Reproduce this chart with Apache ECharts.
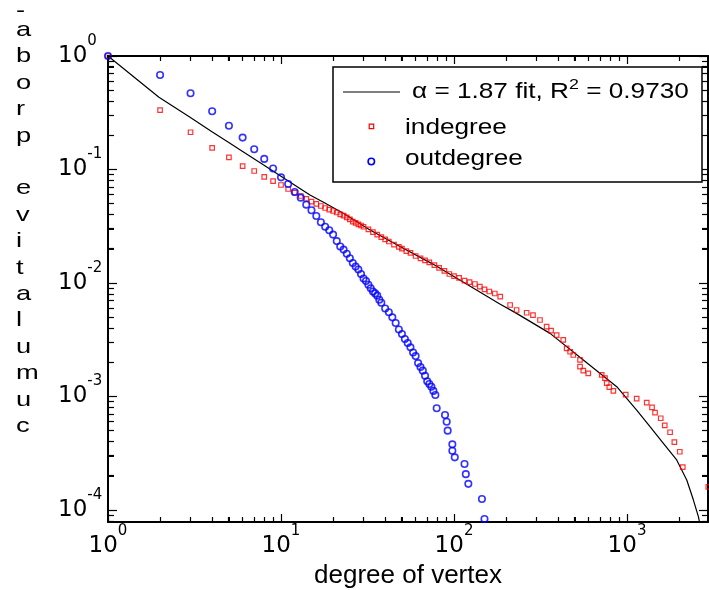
<!DOCTYPE html>
<html><head><meta charset="utf-8">
<script src="https://cdn.jsdelivr.net/npm/echarts@6/dist/echarts.min.js"></script>
<style>html,body{margin:0;padding:0;background:#fff}#c{width:709px;height:590px}</style>
</head><body><div id="c"></div>
<script>
// ---- data ----
const inX = [1,2,3,4,5,6,7,8,9,10,11,12,13,14,15,16,17,18,19,20,21,22,23,24,25,26,27,28,29,30,32,34,36,38,40,42,45,48,50,53,56,60,64,68,72,77,82,88,94,100,107,115,123,132,141,150,160,172,185,211,230,263,286,314,343,364,392,428,448,469,489,535,535,559,597,714,746,763,790,834,983,1137,1300,1395,1452,1566,1652,1774,1877,2018,2100,2950];
const inY = [1,0.334,0.213,0.155,0.128,0.107,0.097,0.086,0.079,0.073,0.0673,0.0625,0.0584,0.055,0.0522,0.0497,0.0477,0.0458,0.0443,0.0431,0.0418,0.0403,0.0392,0.0378,0.0363,0.0348,0.0339,0.0329,0.0321,0.0313,0.0297,0.0281,0.0267,0.0254,0.0242,0.0232,0.0218,0.0208,0.0201,0.0191,0.0184,0.0173,0.0165,0.0158,0.0152,0.0144,0.0136,0.0128,0.012,0.0115,0.0111,0.0105,0.0102,0.0098,0.0093,0.00877,0.00842,0.00808,0.0076,0.0064,0.00578,0.00547,0.00522,0.00472,0.00412,0.0038,0.00348,0.00315,0.00266,0.00248,0.00232,0.0021,0.00183,0.00169,0.0016,0.00155,0.00145,0.00131,0.00121,0.00112,0.00104,0.000957,0.000882,0.000803,0.00072,0.000643,0.000557,0.000484,0.000397,0.000326,0.000239,0.00016];

const outX = [1,2,3,4,5,6,7,8,9,10,11,12,13,14,15,16,17,18,19,20,21,22,23,24,25,26,27,28,29,30,31,32,33,34,35,36,37,38,40,42,44,46,48,50,52,54,56,58,60,62,64,66,68,70,72,74,76,78,79.4,88.7,90.7,91.9,97.8,97.8,101,115,117,121,145,150];
const outY = [1,0.68,0.469,0.326,0.243,0.191,0.151,0.124,0.102,0.0853,0.0745,0.0633,0.0565,0.049,0.0437,0.0389,0.0343,0.0313,0.0292,0.0267,0.0234,0.021,0.0197,0.0181,0.0165,0.015,0.01395,0.01317,0.012,0.01095,0.01041,0.00966,0.00898,0.00842,0.0081,0.00774,0.00713,0.00669,0.00596,0.00552,0.00498,0.00444,0.00389,0.00355,0.00321,0.00296,0.00271,0.00244,0.00227,0.00197,0.00182,0.00169,0.00152,0.00136,0.00129,0.00122,0.00112,0.00103,0.000787,0.000687,0.0006,0.0005,0.000379,0.000333,0.000291,0.000254,0.000207,0.00017,0.000125,0.0000834];

const fitX = [1,1.97,2.98,3.99,4.99,5.97,7.9,10.8,14.7,17.6,22.9,32.7,48.7,75.9,118,184,230,359,559,872,1137,1358,1622,1937,2214,2417,2585,2625];
const fitY = [1,0.433,0.288,0.215,0.173,0.145,0.11,0.081,0.0596,0.0514,0.0411,0.0293,0.021,0.0146,0.0098,0.00653,0.0054,0.0036,0.0021,0.00122,0.00076,0.000542,0.000387,0.000276,0.000184,0.000123,0.0000873,0.0000783];

// tick positions (values) and label base
const xMajorTicks = [1,10,100,1000];
const xMinorTicks = [2,3,4,5,6,7,8,9,20,30,40,50,60,70,80,90,200,300,400,500,600,700,800,900,2000];
const yMajorTicks = [1e-4,1e-3,1e-2,1e-1,1];
const yMinorTicks = [8e-5,9e-5,2e-4,3e-4,4e-4,5e-4,6e-4,7e-4,8e-4,9e-4,2e-3,3e-3,4e-3,5e-3,6e-3,7e-3,8e-3,9e-3,0.02,0.03,0.04,0.05,0.06,0.07,0.08,0.09,0.2,0.3,0.4,0.5,0.6,0.7,0.8,0.9];
const tickBase = '10';

const xTitle = 'degree of vertex';
const yTitleLetters = ['a','b','o','r','p',' ','e','v','i','t','a','l','u','m','u','c'];
const legendFit = 'α = 1.87 fit, R';
const legendFitSup = '2';
const legendFitTail = ' = 0.9730';
const legendIn = 'indegree';
const legendOut = 'outdegree';

const X_MIN = 1, X_MAX = 2938, Y_MIN = 7.84e-5, Y_MAX = 1;

// ---- chart ----
const TF = '"DejaVu Sans", sans-serif';
const AF = '"Liberation Sans", Arial, sans-serif';
const zip = (a, b) => a.map((v, i) => [v, b[i]]);
function labelFmt(v) {
  const l = Math.log10(v), e = Math.round(l);
  if (Math.abs(l - e) > 1e-6) return '';
  return '{b|' + tickBase + '}{s|' + e + '}';
}
const rich = {
  b: { fontFamily: TF, fontSize: 23, color: '#000' },
  s: { fontFamily: TF, fontSize: 15, color: '#000', padding: [0, 0, 30, 0] }
};

function mkAxis(kind, pos, label, extra) {
  const isX = kind === 'x';
  return Object.assign({
    type: 'log', logBase: 10, position: pos,
    min: isX ? X_MIN : Y_MIN, max: isX ? X_MAX : Y_MAX,
    axisLine: { show: true, onZero: false, lineStyle: { color: '#000', width: 2 } },
    axisTick: { show: true, inside: true, length: isX ? 8 : 9, lineStyle: { color: '#000', width: 1 } },
    minorTick: { show: true, splitNumber: 9, length: isX ? 5 : 6, lineStyle: { color: '#000', width: 1 } },
    axisLabel: label || { show: false },
    splitLine: { show: false }
  }, extra || {});
}

const baseGraphics = [
  { type: 'text', x: 16, y: 11, scaleX: 1.3, silent: true,
    style: { text: '-', fontFamily: AF, fontSize: 21, fill: '#000', align: 'left', verticalAlign: 'middle' } },
  { type: 'text', x: 16, y: 17, scaleX: 1.3, silent: true,
    style: { text: yTitleLetters.join('\n'), fontFamily: AF, fontSize: 21, lineHeight: 26.4, fill: '#000', align: 'left', verticalAlign: 'top' } },
  // legend
  { type: 'rect', silent: true, z: 10,
    shape: { x: 333, y: 67, width: 369, height: 115 },
    style: { fill: '#fff', stroke: '#000', lineWidth: 1.5 } },
  { type: 'line', silent: true, z: 11,
    shape: { x1: 343, y1: 92, x2: 400, y2: 92 },
    style: { stroke: '#000', lineWidth: 1.2 } },
  { type: 'text', x: 412, y: 92, scaleX: 1.19, silent: true, z: 11,
    style: {
      text: '{a|' + legendFit + '}{s|' + legendFitSup + '}{a|' + legendFitTail + '}',
      rich: {
        a: { fontFamily: AF, fontSize: 22, fill: '#000' },
        s: { fontFamily: AF, fontSize: 15, fill: '#000', padding: [0, 0, 15, 0] }
      },
      align: 'left', verticalAlign: 'middle'
    } },
  { type: 'rect', silent: true, z: 11,
    shape: { x: 369.2, y: 124.2, width: 4.5, height: 4.5 },
    style: { fill: 'rgba(0,0,0,0)', stroke: '#ff0000', lineWidth: 1.2 } },
  { type: 'text', x: 405, y: 127.5, scaleX: 1.19, silent: true, z: 11,
    style: { text: legendIn, fontFamily: AF, fontSize: 22, fill: '#000', align: 'left', verticalAlign: 'middle' } },
  { type: 'circle', silent: true, z: 11,
    shape: { cx: 371.3, cy: 161.5, r: 3.2 },
    style: { fill: 'rgba(0,0,0,0)', stroke: '#0000ff', lineWidth: 1.6 } },
  { type: 'text', x: 405, y: 159, scaleX: 1.19, silent: true, z: 11,
    style: { text: legendOut, fontFamily: AF, fontSize: 22, fill: '#000', align: 'left', verticalAlign: 'middle' } }
];

const chart = echarts.init(document.getElementById('c'));
chart.setOption({
  animation: false,
  grid: { left: 108, top: 56, width: 600, height: 466, outerBoundsMode: 'none' },
  xAxis: [
    mkAxis('x', 'bottom', {
      show: true, formatter: labelFmt, rich: rich,
      margin: 24.5, verticalAlign: 'middle', align: 'center'
    }, {
      name: xTitle, nameLocation: 'middle', nameGap: 53,
      nameTextStyle: { fontFamily: AF, fontSize: 26, color: '#000', verticalAlign: 'middle' }
    }),
    mkAxis('x', 'top', null)
  ],
  yAxis: [
    mkAxis('y', 'left', {
      show: true, formatter: labelFmt, rich: rich,
      margin: 50, align: 'left', verticalAlign: 'middle'
    }),
    mkAxis('y', 'right', null)
  ],
  series: [
    {
      type: 'line', name: 'fit', xAxisIndex: 0, yAxisIndex: 0,
      data: zip(fitX, fitY), symbol: 'none', showSymbol: false, clip: true,
      lineStyle: { color: '#000', width: 1.2 }, z: 2, silent: true
    },
    {
      type: 'scatter', name: legendIn, xAxisIndex: 0, yAxisIndex: 0,
      data: zip(inX, inY), symbol: 'rect', symbolSize: 4.5, clip: false,
      itemStyle: { color: 'rgba(0,0,0,0)', borderColor: '#ff0000', borderWidth: 1.2 }, z: 3, silent: true
    },
    {
      type: 'scatter', name: legendOut, xAxisIndex: 0, yAxisIndex: 0,
      data: zip(outX, outY), symbol: 'circle', symbolSize: 6.5, clip: true,
      itemStyle: { color: 'rgba(0,0,0,0)', borderColor: '#0000ff', borderWidth: 1.6 }, z: 4, silent: true
    }
  ],
  graphic: { elements: baseGraphics }
});

// tick marks placed through the axes' own scales (convertToPixel)
const toX = v => chart.convertToPixel({ xAxisIndex: 0 }, v);
const toY = v => chart.convertToPixel({ yAxisIndex: 0 }, v);
const L = toX(X_MIN), R = toX(X_MAX), T = toY(Y_MAX), B = toY(Y_MIN);
const crisp = v => Math.round(v - 0.5) + 0.5;
const tk = { stroke: '#000', lineWidth: 1.2 };
const tickGraphics = [];
function addX(v, len) {
  const x = crisp(toX(v));
  tickGraphics.push({ type: 'line', silent: true, z: 5, shape: { x1: x, y1: B, x2: x, y2: B - len }, style: tk });
  tickGraphics.push({ type: 'line', silent: true, z: 5, shape: { x1: x, y1: T, x2: x, y2: T + len }, style: tk });
}
function addY(v, len) {
  const y = crisp(toY(v));
  tickGraphics.push({ type: 'line', silent: true, z: 5, shape: { x1: L, y1: y, x2: L + len, y2: y }, style: tk });
  tickGraphics.push({ type: 'line', silent: true, z: 5, shape: { x1: R, y1: y, x2: R - len, y2: y }, style: tk });
}
xMajorTicks.forEach(v => addX(v, 8));
xMinorTicks.forEach(v => addX(v, 5));
yMajorTicks.forEach(v => addY(v, 9));
yMinorTicks.forEach(v => addY(v, 6));
if (isFinite(L) && isFinite(B)) {
  chart.setOption({ graphic: { elements: baseGraphics.concat(tickGraphics) } });
}
</script>
</body></html>
